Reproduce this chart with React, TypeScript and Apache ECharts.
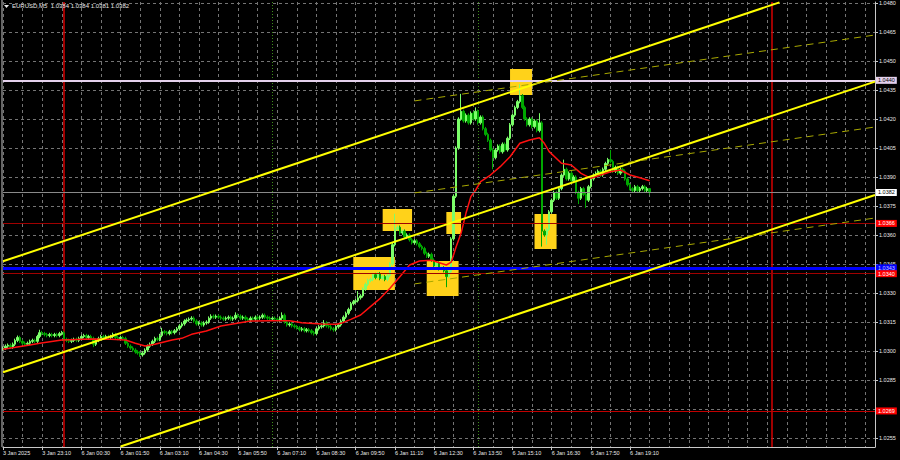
import React, { useEffect, useRef } from 'react';
import * as echarts from 'echarts';

// ---------- data ----------
const BASE = 1.03;
const PIP = 0.0001;
const N_CATS = 357; // bar slots on the x axis (data + empty future area)
const firstOpen = 1.0; // pips above BASE
// closes in pips above 1.0300, one per M5 bar from 3 Jan 21:50
const closePips = [
  1.5, 2.5, 3.0, 2.0, 3.5, 5.5, 7.0, 5.0, 4.0, 3.5,
  4.0, 5.0, 5.5, 5.0, 7.5, 9.5, 9.0, 8.5, 8.0, 8.5,
  8.0, 8.5, 8.0, 9.0, 9.5, 6.0, 5.5, 5.0, 5.5, 6.0,
  5.5, 6.5, 7.5, 8.0, 7.0, 7.5, 6.5, 3.5, 5.5, 6.5,
  7.5, 7.0, 7.5, 7.0, 7.5, 8.5, 7.0, 6.5, 7.0, 6.5,
  4.0, 2.5, 1.5, 0.5, -0.5, -1.0, -2.0, -1.0, 0.5, 2.5,
  3.5, 5.0, 6.5, 6.0, 8.0, 10.0, 9.5, 9.0, 10.0, 9.5,
  10.5, 11.5, 13.0, 14.0, 15.5, 16.0, 16.5, 17.0, 15.5, 14.0,
  14.5, 13.5, 14.5, 15.0, 17.0, 18.0, 17.5, 18.0, 17.5, 17.0,
  16.5, 17.0, 17.5, 16.5, 17.0, 18.5, 18.0, 17.0, 17.5, 16.5,
  16.0, 17.0, 16.5, 17.5, 17.0, 17.5, 18.5, 17.5, 17.0, 16.5,
  17.0, 16.5, 16.0, 17.0, 18.5, 15.0, 13.5, 14.0, 13.0, 12.5,
  12.0, 11.0, 11.5, 10.5, 11.0, 10.5, 9.5, 9.0, 11.5, 12.5,
  13.0, 14.5, 13.0, 12.5, 11.5, 11.0, 12.5, 13.5, 15.5, 17.5,
  19.5, 21.5, 24.5, 25.5, 26.0, 27.5, 28.5, 32.0, 34.5, 36.5,
  37.0, 39.5, 38.0, 40.0, 37.5, 38.5, 37.0, 39.0, 45.0, 55.0,
  63.0, 64.0, 61.0, 62.0, 59.0, 60.0, 57.5, 56.0, 57.0, 55.5,
  54.0, 53.0, 50.5, 49.0, 50.0, 47.0, 44.0, 45.5, 42.5, 43.0,
  41.5, 38.5, 41.0, 58.0, 80.0, 105.0, 120.0, 124.0, 119.0, 122.0,
  118.0, 123.0, 120.0, 124.0, 118.0, 121.0, 115.0, 112.0, 109.0, 104.0,
  100.0, 104.0, 106.0, 103.0, 107.0, 104.0, 110.0, 117.0, 122.0, 126.0,
  129.0, 132.0, 126.0, 120.0, 117.0, 120.0, 116.0, 119.0, 114.0, 118.0,
  62.0, 60.0, 63.0, 72.0, 78.0, 82.0, 79.0, 84.0, 91.0, 94.0,
  89.0, 92.0, 88.0, 90.0, 82.0, 79.0, 84.0, 81.0, 78.0, 85.0,
  89.0, 91.0, 92.0, 93.0, 91.0, 94.0, 97.0, 99.0, 98.0, 93.0,
  95.0, 92.0, 94.0, 93.0, 89.0, 86.0, 84.0, 83.0, 85.0, 83.0,
  84.0, 85.0, 83.0, 84.0, 82.0,
];
// read-off wick extremes (bar index, pips)
const spikeHighs: [number, number][] = [
  [6, 8], [15, 11], [45, 9.5], [65, 12], [77, 18], [85, 19], [95, 20], [114, 20],
  [131, 16], [145, 31], [160, 71], [187, 133], [193, 126], [211, 138], [219, 123],
  [229, 99], [248, 104], [264, 84],
];
const spikeLows: [number, number][] = [
  [37, 2], [56, -3], [127, 8], [135, 10], [181, 33], [200, 94], [220, 54], [222, 55],
  [235, 76], [238, 74], [264, 81],
];
const defaultWick = 0.9;

// moving average (bar index, price)
const maPoints: [number, number][] = [
  [0, 1.030087], [11, 1.03031], [15, 1.030398], [24, 1.030569], [36, 1.03062], [44, 1.030603],
  [50, 1.030569], [54, 1.030398], [58, 1.030258], [62, 1.030345], [69, 1.030569], [73, 1.030655],
  [77, 1.030862], [83, 1.031034], [89, 1.031293], [101, 1.031552], [109, 1.031569], [117, 1.031569],
  [122, 1.031466], [130, 1.031396], [136, 1.031379], [138, 1.031431], [142, 1.031638], [146, 1.031862],
  [150, 1.032293], [154, 1.032724], [158, 1.033241], [162, 1.033845], [166, 1.034448], [170, 1.034655],
  [175, 1.03469], [181, 1.034448], [183, 1.0346], [185, 1.035395], [187, 1.036086], [189, 1.037121],
  [191, 1.037983], [193, 1.038328], [195, 1.038759], [199, 1.039103], [203, 1.039534], [207, 1.04005],
  [211, 1.040743], [215, 1.040914], [219, 1.041035], [221, 1.040743], [223, 1.040312], [228, 1.039708],
  [232, 1.039621], [236, 1.03919], [240, 1.038931], [244, 1.039103], [248, 1.039276], [252, 1.039362],
  [256, 1.039103], [260, 1.038966], [264, 1.03881],
];

const tickLabels = [
  '3 Jan 2025', '3 Jan 23:10', '6 Jan 00:30', '6 Jan 01:50', '6 Jan 03:10', '6 Jan 04:30',
  '6 Jan 05:50', '6 Jan 07:10', '6 Jan 08:30', '6 Jan 09:50', '6 Jan 11:10', '6 Jan 12:30',
  '6 Jan 13:50', '6 Jan 15:10', '6 Jan 16:30', '6 Jan 17:50', '6 Jan 19:10',
];
const yTicks = [
  1.0255, 1.027, 1.0285, 1.03, 1.0315, 1.033, 1.0345, 1.036, 1.0375, 1.039,
  1.0405, 1.042, 1.0435, 1.045, 1.0465, 1.048,
];
// 1.0270 is hidden under the 1.0269 price tag in the reference
const yLabelValues = [
  1.0255, 1.0285, 1.03, 1.0315, 1.033, 1.0345, 1.036, 1.0375, 1.039,
  1.0405, 1.042, 1.0435, 1.045, 1.0465, 1.048,
];
const yMin = 1.025035;
const yMax = 1.048052;

const levelValues = [1.044, 1.0382, 1.0366, 1.0343, 1.034, 1.0269];
const levelLabels = ['1.0440', '1.0382', '1.0366', '1.0343', '1.0340', '1.0269'];

// annotation objects (positions)
const channelLines: [number, number][][] = [
  [[0, 1.03464], [317, 1.04803]],
  [[0, 1.028898], [356, 1.043935]],
  [[48, 1.025059], [356, 1.038069]],
];
const dashedLines: [number, number][][] = [
  [[168, 1.042936], [356, 1.046345]],
  [[168, 1.038177], [356, 1.041586]],
  [[168, 1.03347], [356, 1.036879]],
];
const boxes: [number, number, number, number][] = [
  [143, 1.034862, 160, 1.033155],
  [155, 1.037345, 167, 1.036207],
  [173, 1.034655, 186, 1.032845],
  [181, 1.03719, 187, 1.036052],
  [207, 1.044586, 216, 1.043241],
  [217, 1.037086, 226, 1.035276],
];
const dayLines = [25, 314];
const sessionLines = [110, 194];

// ---------- styles ----------
const FONT = 'Liberation Sans';
const TXT = '#e8e8e8';
const levelStyles = [
  { line: { color: '#e4d0ec', width: 2, type: 'solid' }, bg: '#e4d0ec', fg: '#000000' },
  { line: { color: '#8a8a8a', width: 1, type: 'solid' }, bg: '#ffffff', fg: '#000000' },
  { line: { color: '#a00000', width: 1, type: 'solid' }, bg: '#ff0000', fg: '#ffffff' },
  { line: { color: '#0000ff', width: 3, type: 'solid' }, bg: '#0000ff', fg: '#c8c8ff' },
  { line: { color: '#a00000', width: 1, type: 'solid' }, bg: '#ff0000', fg: '#ffffff' },
  { line: { color: '#c00000', width: 1, type: 'solid' }, bg: '#ff0000', fg: '#ffffff' },
];

function buildCandles() {
  const hi = new Map(spikeHighs);
  const lo = new Map(spikeLows);
  return closePips.map((c, i) => {
    const o = i === 0 ? firstOpen : closePips[i - 1];
    let h = Math.max(o, c) + defaultWick;
    let l = Math.min(o, c) - defaultWick;
    if (hi.has(i)) h = Math.max(h, hi.get(i) as number);
    if (lo.has(i)) l = Math.min(l, lo.get(i) as number);
    if (i === closePips.length - 1) { h = hi.get(i) as number; l = lo.get(i) as number; }
    return [BASE + o * PIP, BASE + c * PIP, BASE + l * PIP, BASE + h * PIP];
  });
}

export default function App() {
  const ref = useRef<HTMLDivElement>(null);
  useEffect(() => {
    document.body.style.margin = '0';
    document.body.style.background = '#000';
    const chart = echarts.init(ref.current!, undefined, { renderer: 'svg' });
    const cats = Array.from({ length: N_CATS }, (_, i) => String(i));
    const labelShown = (i: number) => i % 16 === 0 && i / 16 < tickLabels.length;
    const option: any = {
      animation: false,
      backgroundColor: '#000000',
      grid: { left: 2, right: 25, top: 2, bottom: 13, containLabel: false },
      xAxis: {
        type: 'category',
        data: cats,
        boundaryGap: false,
        axisLine: { show: true, lineStyle: { color: '#c8c8c8', width: 1 } },
        axisTick: { show: true, interval: (i: number) => labelShown(i), length: 3, lineStyle: { color: '#c8c8c8' } },
        axisLabel: {
          show: true,
          interval: (i: number) => labelShown(i),
          formatter: (_v: string, i: number) => tickLabels[i / 16] ?? '',
          align: 'left',
          color: TXT,
          fontSize: 5.5,
          fontFamily: FONT,
          margin: 3,
        },
        splitLine: { show: true, interval: (i: number) => i % 8 === 0, lineStyle: { color: '#747474', type: [3, 3], width: 1 } },
      },
      yAxis: {
        type: 'value',
        position: 'right',
        min: yMin,
        max: yMax,
        scale: true,
        axisLine: { show: true, lineStyle: { color: '#c8c8c8', width: 1 } },
        axisTick: { show: true, length: 3, customValues: yTicks, lineStyle: { color: '#c8c8c8' } },
        axisLabel: {
          show: true,
          customValues: yLabelValues,
          formatter: (v: number) => v.toFixed(4),
          color: TXT,
          fontSize: 5.5,
          fontFamily: FONT,
          margin: 4,
        },
        splitLine: { show: false },
      },
      graphic: [
        { type: 'line', shape: { x1: 2, y1: 0, x2: 2, y2: 447 }, style: { stroke: '#c8c8c8', lineWidth: 1 }, z: 10 },
        { type: 'polygon', shape: { points: [[4, 5], [9, 5], [6.5, 8]] }, style: { fill: '#e8e8e8' }, z: 10 },
        {
          type: 'text', x: 12, y: 3, z: 10,
          style: { text: 'EURUSD,M5  1.0384 1.0384 1.0381 1.0382', fill: TXT, fontSize: 6, fontFamily: FONT },
        },
      ],
      series: [
        {
          name: 'grid', type: 'line', data: [], silent: true, z: 1,
          markLine: {
            silent: true, symbol: 'none', z: 1, animation: false, precision: 6,
            label: { show: false },
            lineStyle: { color: '#747474', type: [3, 3], width: 1 },
            data: yTicks.map((v) => ({ yAxis: v })),
          },
        },
        {
          name: 'boxes', type: 'line', data: [], silent: true, z: 2,
          markArea: {
            silent: true, z: 2, animation: false,
            itemStyle: { color: '#ffd21a', opacity: 1 },
            data: boxes.map((b) => [{ coord: [b[0], b[1]] }, { coord: [b[2], b[3]] }]),
          },
        },
        {
          name: 'separators', type: 'line', data: [], silent: true, z: 2,
          markLine: {
            silent: true, symbol: 'none', z: 2.5, animation: false, precision: 6,
            label: { show: false },
            data: [
              ...dayLines.map((x) => ({ xAxis: x, lineStyle: { color: '#d40000', width: 1.5, type: 'solid' } })),
              ...sessionLines.map((x) => ({ xAxis: x, lineStyle: { color: '#3f8f1a', width: 1, type: [1, 2] } })),
            ],
          },
        },
        {
          name: 'EURUSD', type: 'candlestick', z: 3,
          data: buildCandles(),
          barWidth: 2,
          itemStyle: { color: '#7cff6a', color0: '#00a800', borderColor: '#7cff6a', borderColor0: '#00a800', borderWidth: 1 },
        },
        {
          name: 'MA', type: 'line', z: 4, data: maPoints, showSymbol: false, symbol: 'none',
          lineStyle: { color: '#ff1010', width: 1.5 },
        },
        {
          name: 'objects', type: 'line', data: [], silent: true, z: 5,
          markLine: {
            silent: true, symbol: 'none', z: 5, animation: false, precision: 6,
            data: [
              ...levelValues.map((v, i) => ({
                yAxis: v,
                lineStyle: levelStyles[i].line,
                label: {
                  show: true, position: 'end', distance: 1,
                  formatter: levelLabels[i],
                  color: levelStyles[i].fg, backgroundColor: levelStyles[i].bg,
                  padding: [1, 2, 0, 2], fontSize: 5.5, fontFamily: FONT,
                },
              })),
              ...channelLines.map((l) => [
                { coord: l[0], lineStyle: { color: '#ffff00', width: 2, type: 'solid' }, label: { show: false } },
                { coord: l[1] },
              ]),
              ...dashedLines.map((l) => [
                { coord: l[0], lineStyle: { color: '#a8a800', width: 1, type: [7, 5] }, label: { show: false } },
                { coord: l[1] },
              ]),
            ],
          },
        },
      ],
    };
    chart.setOption(option);
    return () => chart.dispose();
  }, []);
  return <div ref={ref} style={{ position: 'absolute', left: 0, top: 0, width: 900, height: 460, background: '#000' }} />;
}
